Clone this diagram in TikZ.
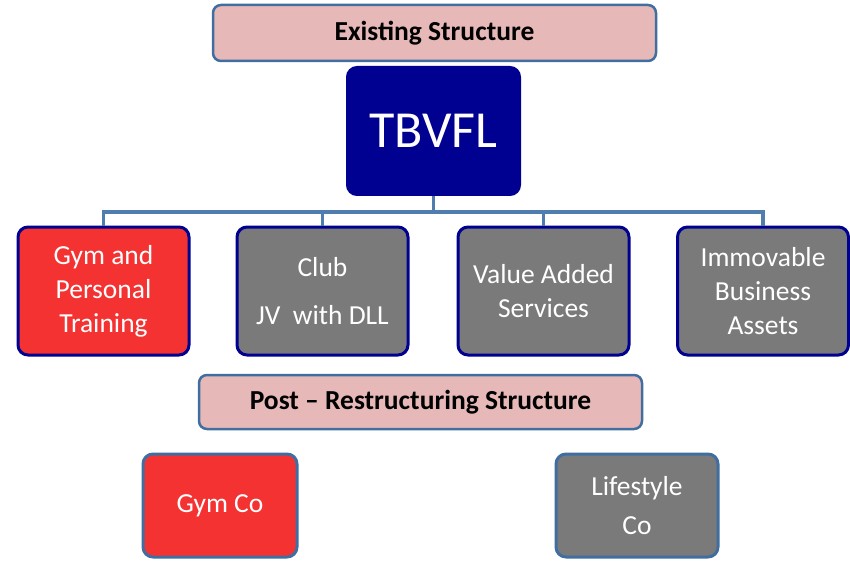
\documentclass[tikz,border=0pt]{standalone}
\usepackage{fontspec}
\setmainfont{Carlito}
\usepackage{tikz}
\definecolor{pinkfill}{RGB}{230, 185, 184}
\definecolor{steel}{RGB}{65, 110, 160}
\definecolor{navy}{RGB}{0, 0, 145}
\definecolor{redfill}{RGB}{245, 50, 50}
\definecolor{greyfill}{RGB}{122, 122, 122}
\definecolor{linkblue}{RGB}{80, 125, 175}

\tikzset{
  heading/.style={draw=steel, fill=pinkfill, line width=2.5pt, rounded corners=8pt,
    inner sep=0pt, font=\bfseries\fontsize{27.5}{32}\selectfont},
  unit/.style={draw=navy, line width=3pt, rounded corners=10pt, inner sep=0pt,
    minimum width=171pt, minimum height=128pt, text=white, align=center,
    font=\fontsize{27.5}{34}\selectfont},
  newco/.style={unit, draw=steel, minimum height=103pt},
  link/.style={draw=linkblue, line width=3.5pt},
}

\begin{document}
\begin{tikzpicture}[x=1pt, y=-1pt]
  \useasboundingbox (0, 0) rectangle (850, 561);

  % existing structure
  \node[heading, minimum width=443pt, minimum height=56pt] (exist) at (434.5, 33) {Existing Structure};
  \node[draw=navy, fill=navy, line width=2pt, rounded corners=10pt, minimum width=173pt,
    minimum height=128pt, text=white, font=\fontsize{52}{60}\selectfont] (tbvfl) at (433.5, 131) {TBVFL};

  \node[unit, fill=redfill] (gym) at (103.5, 291) {Gym and\\Personal\\Training};
  \node[unit, fill=greyfill] (club) at (322.5, 291) {Club\\[14pt]JV~~with DLL};
  \node[unit, fill=greyfill] (vas) at (543.5, 291) {Value Added\\Services};
  \node[unit, fill=greyfill] (assets) at (763, 291) {Immovable\\Business\\Assets};

  \coordinate (bar) at (433.5, 212);
  \foreach \b in {gym, club, vas, assets} {
    \draw[link] (tbvfl.south) -- (bar) -| (\b.north);
  }

  % post-restructuring structure
  \node[heading, minimum width=443pt, minimum height=54pt] (post) at (420.5, 402) {Post -- Restructuring Structure};
  \node[newco, fill=redfill, minimum width=154pt] (gymco) at (220, 505.5) {Gym Co};
  \node[newco, fill=greyfill, minimum width=162pt] (life) at (637, 505.5) {Lifestyle\\[5pt]Co};
\end{tikzpicture}
\end{document}
